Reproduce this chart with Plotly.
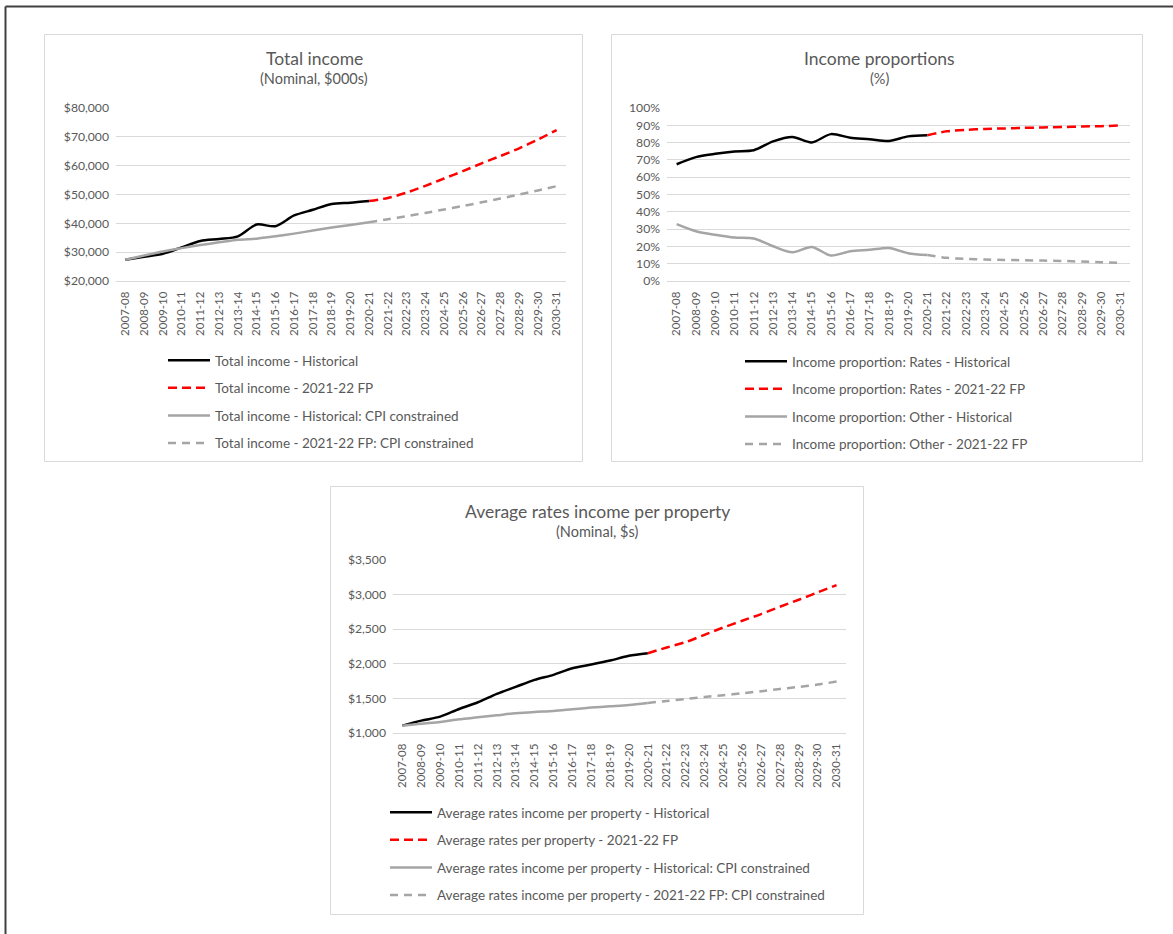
import plotly.graph_objects as go

W, H = 1173, 934

years = ["2007-08", "2008-09", "2009-10", "2010-11", "2011-12", "2012-13", "2013-14",
         "2014-15", "2015-16", "2016-17", "2017-18", "2018-19", "2019-20", "2020-21",
         "2021-22", "2022-23", "2023-24", "2024-25", "2025-26", "2026-27", "2027-28",
         "2028-29", "2029-30", "2030-31"]
hist_years = years[:14]
fp_years = years[13:]

# Chart 1: Total income (Nominal, $000s)
total_hist = [27350, 28400, 29450, 31650, 33870, 34570, 35500, 39580, 39000, 42730,
              44700, 46690, 47150, 47740]
total_fp = [47740, 48800, 50650, 53000, 55550, 58100, 60800, 63350, 66000, 69070, 72330]
total_cpi_hist = [27350, 28850, 30250, 31400, 32470, 33400, 34330, 34690, 35500, 36430,
                  37480, 38530, 39460, 40400]
total_cpi_fp = [40400, 41400, 42500, 43600, 44800, 46000, 47300, 48600, 50000, 51400, 52900]

# Chart 2: Income proportions (%)
rates_hist = [67.5, 71.6, 73.5, 74.9, 75.6, 80.7, 83.2, 80.1, 84.9, 82.8, 82.0, 80.9, 83.6, 84.3]
rates_fp = [84.3, 86.5, 87.4, 87.9, 88.2, 88.5, 88.8, 89.0, 89.3, 89.5, 89.9]
other_hist = [32.9, 28.8, 26.7, 25.1, 24.6, 20.1, 16.6, 19.7, 14.7, 17.2, 18.0, 19.1, 16.1, 15.0]
other_fp = [15.0, 13.4, 12.8, 12.4, 12.2, 12.0, 11.8, 11.6, 11.2, 10.9, 10.5]

# Chart 3: Average rates income per property (Nominal, $s)
avg_hist = [1106, 1179, 1236, 1347, 1444, 1565, 1666, 1767, 1840, 1936, 1989, 2047, 2115, 2153]
avg_fp = [2153, 2236, 2313, 2419, 2525, 2622, 2718, 2824, 2926, 3032, 3138]
avg_cpi_hist = [1106, 1135, 1159, 1198, 1227, 1256, 1285, 1304, 1319, 1343, 1367, 1386, 1405, 1434]
avg_cpi_fp = [1434, 1463, 1492, 1521, 1545, 1574, 1603, 1637, 1666, 1700, 1743]

BLACK = "#000000"
RED = "#FF0000"
GREY = "#A5A5A5"
TXT = "#595959"
GRID = "#D9D9D9"
FONT = "Lato, 'Liberation Sans', sans-serif"

fig = go.Figure()


def add(xs, ys, name, color, dash, ax, legend):
    fig.add_trace(go.Scatter(
        x=xs, y=ys, name=name, mode="lines",
        line=dict(color=color, width=2.5, dash=dash, shape="spline", smoothing=0.8),
        xaxis="x" + ax, yaxis="y" + ax, legend=legend, legendgroup=name,
        hoverinfo="skip"))


add(hist_years, total_hist, "Total income - Historical", BLACK, "solid", "", "legend")
add(fp_years, total_fp, "Total income - 2021-22 FP", RED, "9px,5px", "", "legend")
add(hist_years, total_cpi_hist, "Total income - Historical: CPI constrained", GREY, "solid", "", "legend")
add(fp_years, total_cpi_fp, "Total income - 2021-22 FP: CPI constrained", GREY, "8px,6px", "", "legend")

add(hist_years, rates_hist, "Income proportion: Rates - Historical", BLACK, "solid", "2", "legend2")
add(fp_years, rates_fp, "Income proportion: Rates - 2021-22 FP", RED, "9px,5px", "2", "legend2")
add(hist_years, other_hist, "Income proportion: Other - Historical", GREY, "solid", "2", "legend2")
add(fp_years, other_fp, "Income proportion: Other - 2021-22 FP", GREY, "8px,6px", "2", "legend2")

add(hist_years, avg_hist, "Average rates income per property - Historical", BLACK, "solid", "3", "legend3")
add(fp_years, avg_fp, "Average rates per property - 2021-22 FP", RED, "9px,5px", "3", "legend3")
add(hist_years, avg_cpi_hist, "Average rates income per property - Historical: CPI constrained", GREY, "solid", "3", "legend3")
add(fp_years, avg_cpi_fp, "Average rates income per property - 2021-22 FP: CPI constrained", GREY, "8px,6px", "3", "legend3")


def px_x(v):
    return v / W


def px_y(v):
    return 1 - v / H


def xaxis(x0, x1, anchor):
    return dict(domain=[px_x(x0), px_x(x1)], anchor=anchor, type="category",
                categoryorder="array", categoryarray=years, range=[-0.5, 23.5],
                tickangle=-90, showgrid=False, showline=True, linecolor=GRID, linewidth=1,
                ticks="", ticklabelstandoff=5, automargin=False,
                tickfont=dict(size=11.5, color=TXT, family=FONT), fixedrange=True)


def yaxis(y0, y1, anchor, rng, dtick, fmt, prefix="", suffix=""):
    return dict(domain=[px_y(y1), px_y(y0)], anchor=anchor, range=rng, dtick=dtick,
                tickformat=fmt, tickprefix=prefix, ticksuffix=suffix,
                showgrid=True, gridcolor=GRID, gridwidth=1, zeroline=False,
                showline=False, ticks="", ticklabelstandoff=6, automargin=False,
                tickfont=dict(size=12.2, color=TXT, family=FONT), fixedrange=True)


def legend(x, y):
    return dict(x=px_x(x), y=px_y(y), xanchor="left", yanchor="top",
                font=dict(size=13.5, color=TXT, family=FONT), bgcolor="rgba(0,0,0,0)",
                traceorder="grouped", tracegroupgap=7, itemwidth=42)


layout = dict(
    width=W, height=H, margin=dict(l=0, r=0, t=0, b=0, pad=0, autoexpand=False),
    paper_bgcolor="white", plot_bgcolor="white", font=dict(family=FONT, color=TXT),
    xaxis=xaxis(116, 566, "y"),
    yaxis=yaxis(108, 281, "x", [20000, 80000], 10000, ",", prefix="$"),
    xaxis2=xaxis(667, 1130, "y2"),
    yaxis2=yaxis(108, 281, "x2", [0, 100], 10, "d", suffix="%"),
    xaxis3=xaxis(393, 846, "y3"),
    yaxis3=yaxis(560, 733, "x3", [1000, 3500], 500, ",", prefix="$"),
    legend=legend(163, 345),
    legend2=legend(740, 346),
    legend3=legend(385, 797),
    showlegend=True,
)
fig.update_layout(**layout)

# chart boxes and outer frame
shapes = []
for (x0, y0, x1, y1) in [(44.5, 34.5, 582.5, 461.5), (611.5, 34.5, 1142.5, 461.5),
                         (330.5, 486.5, 863.5, 914.5)]:
    shapes.append(dict(type="rect", xref="paper", yref="paper", x0=px_x(x0), x1=px_x(x1),
                       y0=px_y(y1), y1=px_y(y0), line=dict(color=GRID, width=1), layer="below"))
shapes.append(dict(type="line", xref="paper", yref="paper", x0=px_x(5.5), x1=1,
                   y0=px_y(6.5), y1=px_y(6.5), line=dict(color="#404040", width=2)))
shapes.append(dict(type="line", xref="paper", yref="paper", x0=px_x(5.5), x1=px_x(5.5),
                   y0=0, y1=px_y(6.5), line=dict(color="#404040", width=2)))
fig.update_layout(shapes=shapes)

# titles
titles = [
    (314, 58, "Total income", 79, "(Nominal, $000s)"),
    (879, 58, "Income proportions", 79, "(%)"),
    (597, 511, "Average rates income per property", 531, "(Nominal, $s)"),
]
ann = []
for cx, ty, t, sy, st in titles:
    ann.append(dict(xref="paper", yref="paper", x=px_x(cx), y=px_y(ty), text=t,
                    showarrow=False, xanchor="center", yanchor="middle",
                    font=dict(size=17.5, color=TXT, family=FONT)))
    ann.append(dict(xref="paper", yref="paper", x=px_x(cx), y=px_y(sy), text=st,
                    showarrow=False, xanchor="center", yanchor="middle",
                    font=dict(size=14.5, color=TXT, family=FONT)))
fig.update_layout(annotations=ann)

post = """
document.documentElement.style.margin='0';
document.documentElement.style.overflow='hidden';
document.body.style.margin='0';
document.body.style.overflow='hidden';
var gd = document.getElementsByClassName('plotly-graph-div')[0];
gd.style.position='fixed';
gd.style.left='0px';
gd.style.top='0px';
"""
fig.write_html("out.html", config={"displayModeBar": False}, post_script=post)
